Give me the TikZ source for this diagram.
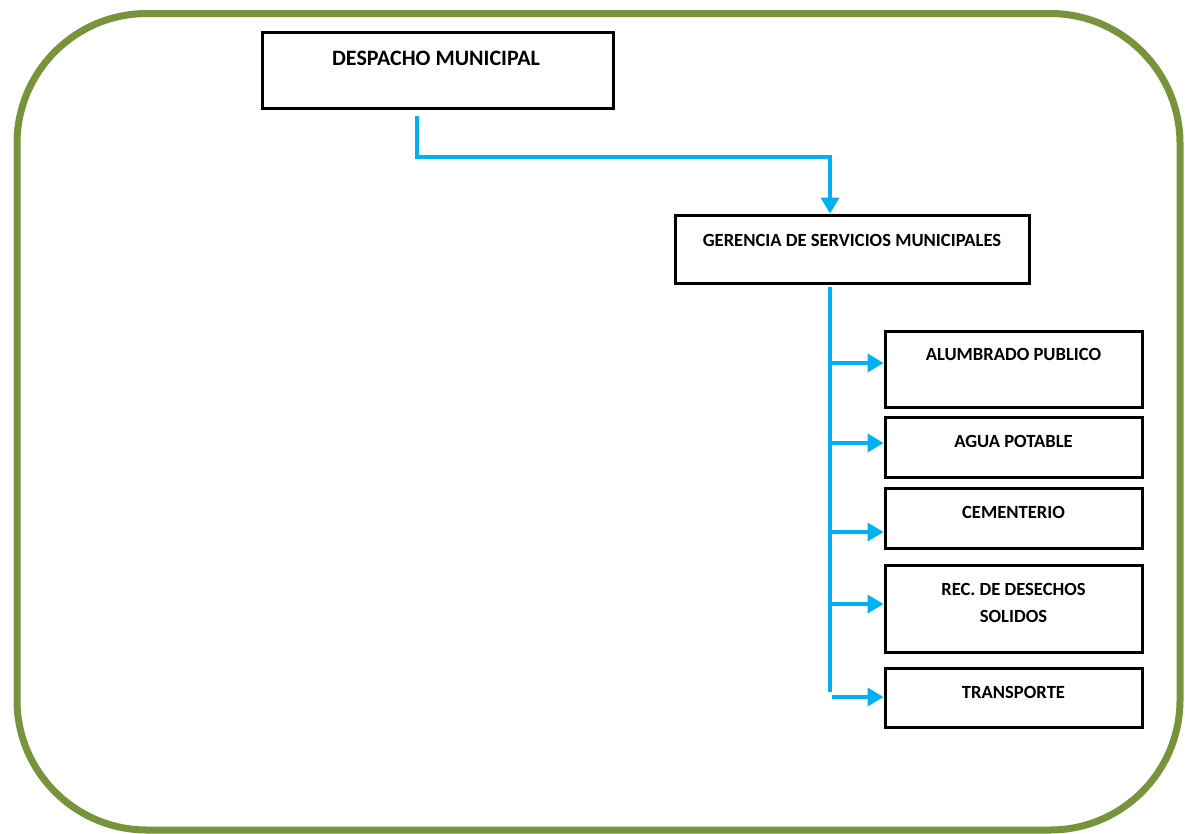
\documentclass[tikz,border=0pt]{standalone}
\usepackage{fontspec}
\setmainfont{Carlito}
\usetikzlibrary{arrows.meta}
\definecolor{frameGreen}{HTML}{77933C}
\definecolor{linkBlue}{HTML}{00B0F0}
\begin{document}
\begin{tikzpicture}[x=1pt,y=-1pt,
  orgbox/.style={draw=black,line width=3pt,minimum width=#1,inner sep=0pt},
  lbl/.style={font=\fontsize{18.6}{27}\selectfont\bfseries,inner sep=0pt,align=center},
  biglbl/.style={lbl,font=\fontsize{22}{27}\selectfont\bfseries},
  link/.style={draw=linkBlue,line width=3.5pt},
  linkarrow/.style={link,-{Triangle[length=16pt,width=18pt]}}]
\useasboundingbox (0,0) rectangle (1185,833);
\draw[frameGreen,line width=7pt,rounded corners=130pt] (17,13.5) rectangle (1180,830);
% boxes
\node[orgbox=351pt,minimum height=76pt] (desp) at (437.5,70) {};
\node[orgbox=354pt,minimum height=68pt] (ger) at (852,249) {};
\node[orgbox=257pt,minimum height=76pt] (alu) at (1013.5,369) {};
\node[orgbox=257pt,minimum height=60pt] (agua) at (1013.5,447) {};
\node[orgbox=257pt,minimum height=60pt] (cem) at (1013.5,518) {};
\node[orgbox=257pt,minimum height=87pt] (rec) at (1013.5,608.5) {};
\node[orgbox=257pt,minimum height=59pt] (tra) at (1013.5,697.5) {};
% labels
\node[biglbl] (tdesp) at (436,58) {DESPACHO MUNICIPAL};
\node[lbl] (tger) at (852,240) {GERENCIA DE SERVICIOS MUNICIPALES};
\node[lbl] (talu) at (1013.5,354) {ALUMBRADO PUBLICO};
\node[lbl] (tagua) at (1013.5,441) {AGUA POTABLE};
\node[lbl] (tcem) at (1013.5,512) {CEMENTERIO};
\node[lbl] (trec) at (1013.5,602.5) {REC. DE DESECHOS\\SOLIDOS};
\node[lbl] (ttra) at (1013.5,692.5) {TRANSPORTE};
% connectors
\coordinate (d0) at (417,116);
\coordinate (bus0) at (830,287);
\coordinate (bus1) at (830,692);
\coordinate (tra0) at (832,697);
\draw[linkarrow] (d0) |- (830,157) -- (ger.north -| bus0);
\draw[link] (bus0) -- (bus1);
\draw[linkarrow] (bus0 |- 0,363) -- (alu.west |- 0,363);
\draw[linkarrow] (bus0 |- 0,443) -- (agua.west |- 0,443);
\draw[linkarrow] (bus0 |- 0,532) -- (cem.west |- 0,532);
\draw[linkarrow] (bus0 |- 0,604) -- (rec.west |- 0,604);
\draw[linkarrow] (tra0) -- (tra.west |- tra0);
\end{tikzpicture}
\end{document}
